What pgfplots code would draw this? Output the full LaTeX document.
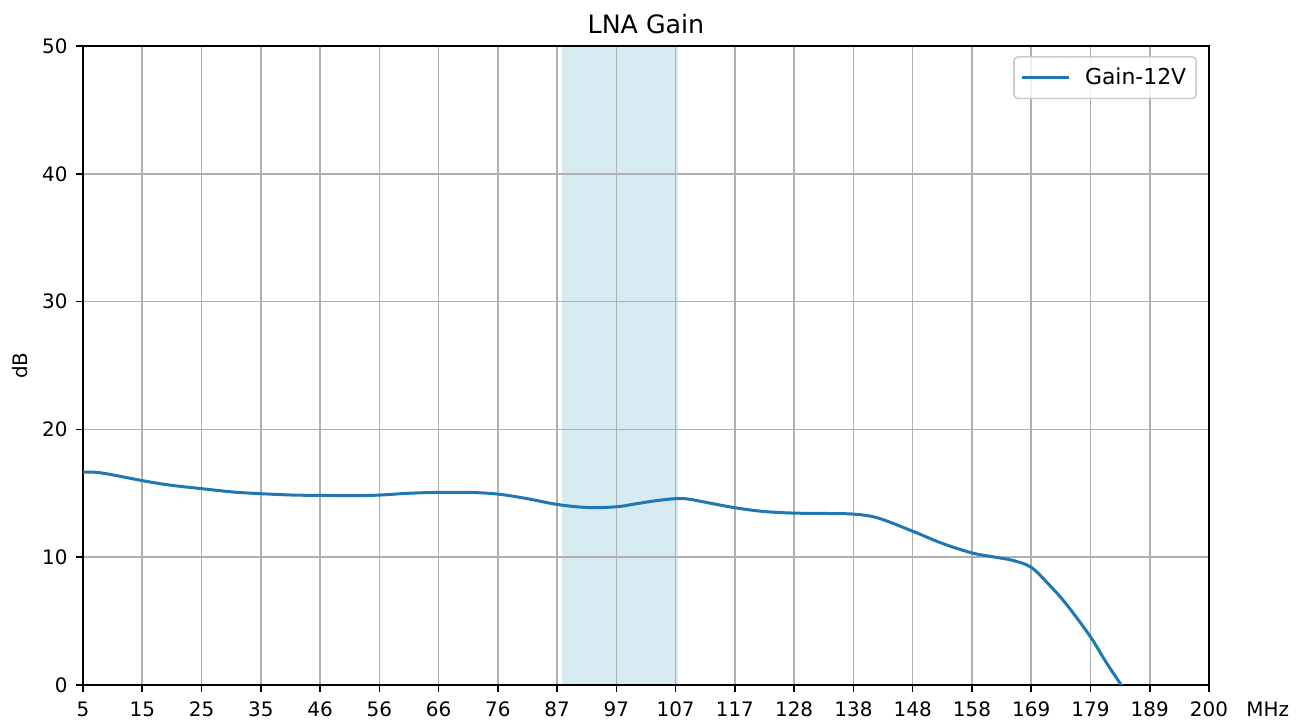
\documentclass[border=0pt]{standalone}
\usepackage{pgfplots}
\pgfplotsset{compat=1.18}
\usepackage{fontspec}
\setmainfont{DejaVu Sans}
\definecolor{mplblue}{HTML}{1F77B4}
\definecolor{gridgray}{HTML}{B0B0B0}
\definecolor{legframe}{HTML}{CCCCCC}
\definecolor{shade}{RGB}{213,234,241}
\begin{document}
\begin{tikzpicture}
\begin{axis}[
  name=ax,
  at={(0,0)}, anchor=south west,
  scale only axis,
  width=563bp, height=319.5bp,
  set layers,
  xmin=5, xmax=200, ymin=0, ymax=50,
  xtick={5,15.263,25.526,35.789,46.053,56.316,66.579,76.842,87.105,97.368,107.632,117.895,128.158,138.421,148.684,158.947,169.211,179.474,189.737,200},
  xticklabels={5,15,25,35,46,56,66,76,87,97,107,117,128,138,148,158,169,179,189,200},
  ytick={0,10,20,30,40,50},
  tick align=outside,
  xtick pos=bottom, ytick pos=left,
  major tick length=3.5bp,
  every tick/.style={black, line width=0.8bp},
  axis line style={black, line width=0.8bp},
  grid=major,
  major grid style={gridgray, line width=0.8bp},
  /pgf/number format/assume math mode=true,
  tick label style={font=\fontsize{10}{12}\selectfont, inner sep=0pt},
  xticklabel style={anchor=base, yshift=-12bp},
  yticklabel style={anchor=east, xshift=-4bp},
  legend style={at={(1,1)}, anchor=north east, xshift=-6bp, yshift=-5bp,
    draw=legframe, line width=0.8bp, rounded corners=2bp, fill=white, fill opacity=0.8, text opacity=1,
    inner xsep=0pt, inner ysep=5.5bp,
    font=\fontsize{11}{13}\selectfont,
    nodes={inner sep=0pt}},
  legend cell align=left,
  legend image code/.code={\path[draw=none] (-4bp,0bp) -- (31.5bp,0bp); \draw[#1] (0bp,0bp) -- (23.5bp,0bp);},
  clip=true,
]
\addplot[fill=shade, draw=none, forget plot, on layer=axis background]
  coordinates {(88,0) (88,50) (108,50) (108,0)} -- cycle;
\addplot[mplblue, line width=1.5bp, smooth, tension=0.55] coordinates {
(5.0,16.65) (8.1,16.6) (15.3,15.99) (19.9,15.65) (25.6,15.36) (31.0,15.1)
(35.8,14.97) (41.5,14.86) (46.0,14.84) (51.4,14.81) (56.3,14.86) (61.3,15.0)
(66.5,15.07) (71.9,15.07) (76.8,14.94) (81.7,14.6) (87.1,14.13) (92.3,13.89)
(97.3,13.94) (100.5,14.16) (104.2,14.42) (107.6,14.58) (109.8,14.55) (112.9,14.29)
(117.9,13.87) (122.8,13.58) (128.2,13.45) (133.9,13.42) (138.4,13.37) (142.6,13.08)
(148.7,12.03) (153.7,11.1) (158.9,10.34) (163.0,10.0) (166.1,9.74) (169.2,9.21)
(172.2,7.9) (175.3,6.32) (179.4,3.82) (182.1,1.84) (184.8,0) (186.0,-0.82)
};
\addlegendentry{Gain-12V\hspace*{5bp}}
\end{axis}
\node[anchor=base, font=\fontsize{12.7}{15}\selectfont] at ([yshift=6.5bp]ax.north) {LNA Gain};
\node[rotate=90, anchor=center, font=\fontsize{10}{12}\selectfont] at ([xshift=-31.5bp]ax.west) {dB};
\node[anchor=base west, inner sep=0pt, font=\fontsize{10}{12}\selectfont] at ([xshift=18.5bp, yshift=-15.5bp]ax.south east) {MHz};
\pgfresetboundingbox
\useasboundingbox (-41.5bp,-18.5bp) rectangle (611.5bp,342.5bp);
\end{tikzpicture}
\end{document}
